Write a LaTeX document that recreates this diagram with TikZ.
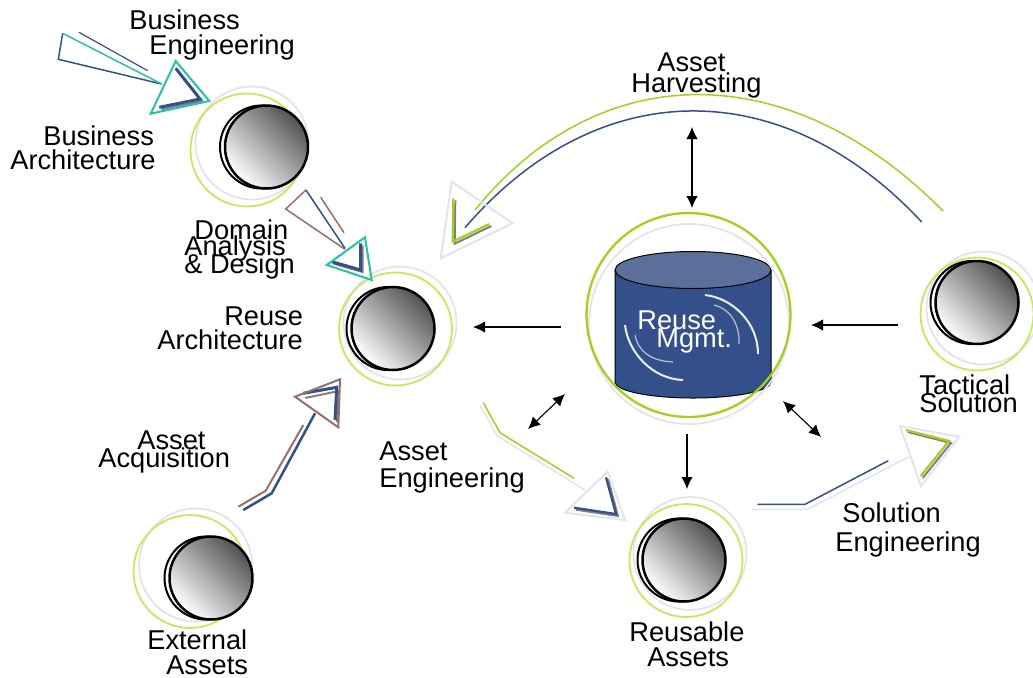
\documentclass[tikz,border=0pt]{standalone}
\usepackage{fontspec}
\setmainfont{Liberation Sans}
\usetikzlibrary{arrows.meta}
\definecolor{ringgrey}{HTML}{E3E3EB}
\definecolor{ballgreen}{HTML}{C6E85C}
\definecolor{limegreen}{HTML}{A3D01E}
\definecolor{steelblue}{HTML}{34508A}
\definecolor{tealgreen}{HTML}{22C4A2}
\definecolor{clay}{HTML}{95706A}
\definecolor{drumtop}{HTML}{5C6F9B}
\newcommand{\labelfont}{\fontsize{15.5}{14}\selectfont\lineskiplimit=-100pt\relax}
\tikzset{
	lbl/.style={inner sep=0pt,anchor=west,align=left,font=\labelfont},
	greyring/.style={circle,draw=ringgrey,line width=0.036cm,minimum size=2.26cm,inner sep=0pt},
	greenring/.style={circle,draw=ballgreen,line width=0.036cm,minimum size=2.26cm,inner sep=0pt},
	ball/.style={circle,draw=black,line width=0.05cm,minimum size=1.66cm,inner sep=0pt,top color=black!68,bottom color=white,shading angle=-45},
	backball/.style={circle,draw=black,line width=0.04cm,fill=white,minimum size=1.66cm,inner sep=0pt,xshift=-0.1cm},
	flow/.style={line width=0.022cm,>={Latex[length=0.24cm,width=0.23cm]}},
	head/.style={line width=0.04cm,line join=miter},
	inner/.style={line width=0.06cm,line join=miter},
	thininner/.style={line width=0.045cm,line join=miter},
	shade/.style={line width=0.04cm,draw=gray,xshift=0.04cm,yshift=-0.04cm},
}
\newcommand{\assetball}[4]{%
	\node[greyring] (#1grey) at (#4) {};
	\node[greenring] (#1green) at (#3) {};
	\node[backball] (#1back) at (#2) {};
	\node[ball] (#1) at (#2) {};
}
\begin{document}
\begin{tikzpicture}[x=0.02cm,y=-0.02cm]
	\useasboundingbox (0,0) rectangle (1033,677);

	\assetball{bizarch}{266.5,147}{247,150}{252,143}
	\assetball{reusearch}{393,328.5}{395.5,329}{400,323}
	\assetball{tactical}{977,302.5}{977,314}{983,308}
	\assetball{reusable}{684,560}{686,560.5}{690,553.5}
	\assetball{external}{211,578}{190,571.5}{195.5,565}

	\fill[steelblue] (615,270) -- (615,382) arc[start angle=180,end angle=0,x radius=78,y radius=16] -- (771,270) -- cycle;
	\draw[line width=0.02cm] (615,270) -- (615,382) arc[start angle=180,end angle=0,x radius=78,y radius=16] -- (771,270);
	\draw[line width=0.02cm,fill=drumtop] (693,270) ellipse[x radius=78,y radius=18.5];
	\draw[white!90!steelblue,line width=0.04cm] (705,295) .. controls (732,298) and (758,322) .. (758,354);
	\draw[white!65!steelblue,line width=0.024cm] (714,305) .. controls (728,308) and (740,322) .. (739,344);
	\draw[white!90!steelblue,line width=0.04cm] (625,325) .. controls (628,352) and (652,379) .. (683,380);
	\draw[white!65!steelblue,line width=0.024cm] (635,335) .. controls (638,352) and (652,361) .. (673,362);
	\node[greyring,minimum size=4cm] (drumgrey) at (689,324) {};
	\node[greenring,draw=limegreen,line width=0.046cm,minimum size=4.08cm] (drum) at (688.5,315) {};

	\node[lbl] (bizeng) at (129,35) {Business\\[0.2pt]\hspace*{11.4pt}Engineering};
	\node[lbl] (bizarchlabel) at (10,148) {\hspace*{18.8pt}Business\\[-0.3pt]Architecture};
	\node[lbl] (domain) at (184,249.5) {\hspace*{5.7pt}Domain\\[-4.9pt]Analysis\\[-3.8pt]\& Design};
	\node[lbl] (reusearchlabel) at (157,328) {\hspace*{38.1pt}Reuse\\[-0.3pt]Architecture};
	\node[lbl] (acquisition) at (98,452) {\hspace*{22.2pt}Asset\\[-3.8pt]Acquisition};
	\node[lbl] (externallabel) at (147,652.5) {External\\[0.2pt]\hspace*{10.8pt}Assets};
	\node[lbl] (assetengineering) at (379,467.5) {Asset\\[1.4pt]Engineering};
	\node[lbl] (reusablelabel) at (629,644.5) {Reusable\\[0.2pt]\hspace*{10.2pt}Assets};
	\node[lbl] (solution) at (835,529.5) {\hspace*{4pt}Solution\\[2.5pt]Engineering};
	\node[lbl] (tacticallabel) at (919,394) {Tactical\\[-3.8pt]Solution};
	\node[lbl] (harvesting) at (631,75.5) {\hspace*{14.8pt}Asset\\[-2pt]Harvesting};
	\node[lbl,text=white] (drumlabel) at (637,331.5) {Reuse\\[-3.8pt]\hspace*{10.8pt}Mgmt.};

	\coordinate (a1) at (561,327);
	\coordinate (a2) at (473,327);
	\coordinate (b1) at (898,325);
	\coordinate (b2) at (811,325);
	\coordinate (c1) at (692,127);
	\coordinate (c2) at (692,208);
	\coordinate (d1) at (687,434);
	\coordinate (d2) at (687,489);
	\coordinate (e1) at (565,394);
	\coordinate (e2) at (528,429);
	\coordinate (f1) at (783,401);
	\coordinate (f2) at (821,437);
	\draw[flow,->] (a1) to (a2);
	\draw[flow,->] (b1) to (b2);
	\draw[flow,<->] (c1) to (c2);
	\draw[flow,->] (d1) to (d2);
	\draw[flow,<->] (e1) to (e2);
	\draw[flow,<->] (f1) to (f2);

	\draw[steelblue,line width=0.03cm] (161.7,84) -- (58.3,59.3) -- (62.7,33.3);
	\draw[tealgreen,line width=0.03cm] (62.7,33.3) -- (161.7,84);
	\draw[steelblue,line width=0.024cm] (79,32.3) -- (147.7,70.7);
	\draw[shade] (175.7,68.3) -- (200,99) -- (159.3,107.3);
	\draw[inner,steelblue] (175.7,68.3) -- (200,99) -- (159.3,107.3);
	\draw[head,tealgreen] (175.7,61) -- (209.3,101) -- (150.7,113.7) -- cycle;

	\draw[clay,line width=0.03cm] (306,190) -- (285.7,209) -- (345,249.3);
	\draw[steelblue,line width=0.03cm] (306,190) -- (345,248.3);
	\draw[clay,line width=0.03cm] (320.7,197.3) -- (344,232.7);
	\draw[shade] (360.7,243.3) -- (360.7,270) -- (331.7,261.7);
	\draw[inner,steelblue] (360.7,243.3) -- (360.7,270) -- (331.7,261.7);
	\draw[head,tealgreen] (365,237.3) -- (371.7,280) -- (326.7,265) -- cycle;

	\draw[clay,line width=0.04cm] (238.3,506.7) -- (265.7,490.7) -- (303.3,425);
	\draw[steelblue,line width=0.05cm] (243.3,510) -- (271.7,493.3) -- (315,413.3);
	\draw[shade] (303.3,396) -- (336.7,389) -- (335,420);
	\draw[inner,steelblue] (303.3,393.3) -- (336.7,387.3) -- (335,420);
	\draw[head,clay] (295,396.7) -- (340,379.3) -- (338.3,427.3) -- cycle;

	\draw[limegreen,line width=0.03cm] (943,211) .. controls (790,56) and (600,56) .. (475,210);
	\draw[steelblue,line width=0.03cm] (921.7,222) .. controls (783,73) and (598,73) .. (465,227.7);
	\draw[shade] (453.3,198.3) -- (452.7,241.7) -- (489.3,224);
	\draw[thininner,limegreen] (453.3,198.3) -- (452.7,241.7) -- (489.3,224);
	\draw[head,ringgrey] (451.7,181.7) -- (512.7,223.3) -- (440.7,258.3) -- cycle;

	\draw[ringgrey,line width=0.03cm] (480,405) -- (497.3,436) -- (585,490);
	\draw[limegreen,line width=0.03cm] (483.3,402.7) -- (500,432.7) -- (574,478.3);
	\draw[shade] (606,477.3) -- (616,514) -- (574,507.7);
	\draw[thininner,steelblue] (606,477.3) -- (616,514) -- (574,507.7);
	\draw[head,ringgrey] (607.7,471.7) -- (625,520) -- (565,512.7) -- cycle;

	\draw[ringgrey,line width=0.03cm] (751.7,509.3) -- (807.3,509.3) -- (909,456.7);
	\draw[steelblue,line width=0.03cm] (757.3,504.3) -- (805,504.3) -- (888.3,460.7);
	\draw[shade] (905.7,430) -- (949,441) -- (920.7,476);
	\draw[thininner,limegreen] (905.7,430) -- (949,441) -- (920.7,476);
	\draw[head,ringgrey] (900,426) -- (959.3,436.7) -- (921,486) -- cycle;
\end{tikzpicture}
\end{document}
